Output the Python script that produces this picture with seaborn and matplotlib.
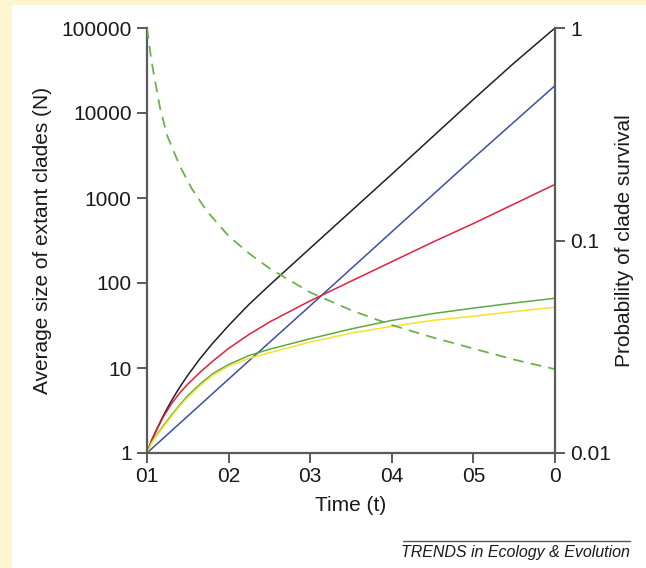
import numpy as np
import pandas as pd
import matplotlib
matplotlib.use("Agg")
import matplotlib.pyplot as plt
from matplotlib.patches import Rectangle
from matplotlib.lines import Line2D
import seaborn as sns

# Time points (t)
t_curve = [0, 0.5, 1, 2, 3, 4, 5, 6.5, 8, 10, 12.5, 15, 20, 25, 30, 35, 40, 45, 50]

# Average size of extant clades (left axis, log)
black_n = [1, 1.36, 1.74, 2.75, 4.12, 5.92, 8.22, 12.9, 19.3, 31.6, 56, 94, 257, 700, 1905, 5250, 14450, 38900, 100000]
red_n = [1, 1.35, 1.72, 2.66, 3.8, 5.07, 6.46, 8.9, 11.9, 17.0, 24.8, 34.7, 61.7, 105, 178, 302, 501, 851, 1445]
green_n = [1, 1.30, 1.55, 2.09, 2.79, 3.67, 4.73, 6.46, 8.51, 11.0, 14.0, 16.6, 22.1, 28.8, 36.3, 43.6, 50.7, 58.2, 66.1]
yellow_n = [1, 1.27, 1.51, 2.02, 2.69, 3.55, 4.52, 6.17, 8.13, 10.5, 13.0, 15.1, 20.2, 25.7, 30.9, 36.3, 40.7, 46.2, 51.9]

t_blue = [0, 10, 20, 30, 40, 50]
blue_n = [1, 7.4, 54, 400, 2950, 21000]

# Probability of clade survival (right axis, log)
t_surv = [0, 0.5, 1, 1.6, 2.5, 4, 5.5, 7.3, 10, 12.5, 15, 20, 25, 30, 35, 40, 45, 50]
surv_p = [1, 0.72, 0.56, 0.42, 0.31, 0.225, 0.175, 0.138, 0.105, 0.087, 0.074, 0.057, 0.047,
          0.040, 0.035, 0.031, 0.0275, 0.0248]

x_ticks = [0, 10, 20, 30, 40, 50]
x_ticklabels = ["01", "02", "03", "04", "05", "0"]
y_ticks = [1, 10, 100, 1000, 10000, 100000]
y_ticklabels = ["1", "10", "100", "1000", "10000", "100000"]
p_ticks = [0.01, 0.1, 1]
p_ticklabels = ["0.01", "0.1", "1"]

sns.set_style("ticks")
plt.rcParams['font.family'] = ['Liberation Sans', 'DejaVu Sans']

W, H = 646, 568
fig = plt.figure(figsize=(W / 100, H / 100), dpi=100)
fig.patch.set_facecolor('#FCF5CD')
fig.add_artist(Rectangle((12 / W, 0), 1 - 12 / W, 1 - 5 / H, transform=fig.transFigure,
                         facecolor='white', edgecolor='none', zorder=-10))

ax = fig.add_axes([147 / W, 1 - 453 / H, (555 - 147) / W, (453 - 28) / H])
ax.set_facecolor('none')

lw = 1.1
sns.lineplot(x=t_curve, y=black_n, ax=ax, color='#231F20', lw=lw)
sns.lineplot(x=t_blue, y=blue_n, ax=ax, color='#3D4FA1', lw=lw)
sns.lineplot(x=t_curve, y=red_n, ax=ax, color='#E2203D', lw=lw)
sns.lineplot(x=t_curve, y=green_n, ax=ax, color='#5DAA45', lw=lw)
sns.lineplot(x=t_curve, y=yellow_n, ax=ax, color='#F7E22B', lw=lw)

ax.set_yscale('log')
ax.set_xlim(0, 50)
ax.set_ylim(1, 100000)
ax.set_xticks(x_ticks)
ax.set_xticklabels(x_ticklabels)
ax.set_yticks(y_ticks)
ax.set_yticklabels(y_ticklabels)
ax.minorticks_off()

ax2 = ax.twinx()
sns.lineplot(x=t_surv, y=surv_p, ax=ax2, color='#6BB24F', lw=1.3)
ax2.lines[0].set_dashes([6, 4])
ax2.set_yscale('log')
ax2.set_ylim(0.01, 1)
ax2.set_yticks(p_ticks)
ax2.set_yticklabels(p_ticklabels)
ax2.minorticks_off()

spine_col = '#5A5A5A'
fs = 15
for a in (ax, ax2):
    for s in a.spines.values():
        s.set_color(spine_col)
        s.set_linewidth(1.6)
    a.spines['top'].set_visible(False)
    a.tick_params(colors=spine_col, labelcolor='#1a1a1a', labelsize=fs, length=7, width=1.4)
ax.spines['right'].set_visible(False)
ax2.spines['left'].set_visible(False)
ax2.spines['bottom'].set_visible(False)
ax.tick_params(axis='y', pad=4)
ax.tick_params(axis='x', pad=3)
ax2.tick_params(axis='y', pad=4)

ax.set_xlabel('Time (t)', fontsize=fs, color='#1a1a1a', labelpad=7)
ax.set_ylabel('Average size of extant clades (N)', fontsize=fs, color='#1a1a1a', labelpad=7)
ax2.set_ylabel('Probability of clade survival', fontsize=fs, color='#1a1a1a', labelpad=3)

# journal footer
fig.add_artist(Line2D([403 / W, 630 / W], [1 - 541 / H, 1 - 541 / H], transform=fig.transFigure,
                      color='#555555', lw=1))
fig.text(630 / W, 1 - 552 / H, 'TRENDS in Ecology & Evolution', ha='right', va='center',
         fontsize=11.5, style='italic', color='#1a1a1a')

fig.savefig('out.png', dpi=100)
